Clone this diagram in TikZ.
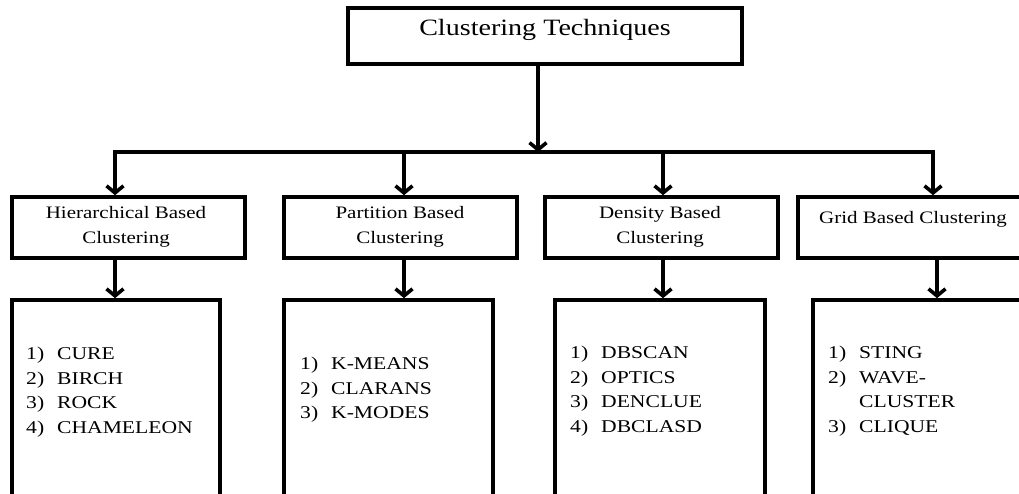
\documentclass[tikz,border=0pt]{standalone}
\usepackage{fontspec}
\setmainfont{Liberation Serif}[FakeStretch=1.2]
\usetikzlibrary{arrows.meta}
\newcommand\lnum[1]{\makebox[31pt][l]{#1)}}
\begin{document}
\begin{tikzpicture}[x=1pt,y=-1pt,
  box/.style={draw, line width=3.6pt, inner sep=0pt},
  conn/.style={line width=3.6pt, line cap=rect},
  arr/.style={line width=3.6pt, -{Straight Barb[length=7pt,width=17pt]}},
  head/.style={font=\fontsize{17.5}{25}\selectfont, align=center, inner sep=0pt},
  lst/.style={font=\fontsize{18}{24.5}\selectfont, align=left, inner sep=0pt, anchor=north west}]
\useasboundingbox (0,0) rectangle (1019,494);
\clip (0,0) rectangle (1019,494);
% top box
\node[box, minimum width=394, minimum height=56] (top) at (545,36) {};
\node[font=\fontsize{23.4}{28}\selectfont, anchor=base, inner sep=0pt] (toptxt) at (545,36) {Clustering Techniques};
% second row
\node[box, minimum width=233, minimum height=61] (h2) at (128.5,227.5) {};
\node[box, minimum width=233, minimum height=61] (p2) at (400.5,227.5) {};
\node[box, minimum width=233, minimum height=61] (d2) at (661.5,227.5) {};
\node[box, minimum width=233, minimum height=61] (g2) at (914.5,227.5) {};
\node[head, anchor=north] (h2t) at (126,206.5) {Hierarchical Based\\Clustering};
\node[head, anchor=north] (p2t) at (400,206.5) {Partition Based\\Clustering};
\node[head, anchor=north] (d2t) at (660,206.5) {Density Based\\Clustering};
\node[head, anchor=base] (g2t) at (913,224) {Grid Based Clustering};
% third row
\node[box, minimum width=208, minimum height=210] (h3) at (116,405) {};
\node[box, minimum width=209, minimum height=210] (p3) at (388.5,405) {};
\node[box, minimum width=210, minimum height=210] (d3) at (660,405) {};
\node[box, minimum width=217, minimum height=210] (g3) at (921.5,405) {};
\node[lst] (h3t) at (26,347) {\lnum{1}CURE\\ \lnum{2}BIRCH\\ \lnum{3}ROCK\\ \lnum{4}CHAMELEON};
\node[lst] (p3t) at (300,357) {\lnum{1}K-MEANS\\ \lnum{2}CLARANS\\ \lnum{3}K-MODES};
\node[lst] (d3t) at (570,346) {\lnum{1}DBSCAN\\ \lnum{2}OPTICS\\ \lnum{3}DENCLUE\\ \lnum{4}DBCLASD};
\node[lst] (g3t) at (828,346) {\lnum{1}STING\\ \lnum{2}WAVE-\\ \hspace*{31pt}CLUSTER\\ \lnum{3}CLIQUE};
% connectors
\coordinate (bus) at (0,152);
\coordinate (tx) at (538,0);
\coordinate (hx) at (115,0);
\coordinate (px) at (404,0);
\coordinate (dx) at (663,0);
\coordinate (gx) at (933,0);
\coordinate (gx2) at (937,0);
\draw[arr] (top.south -| tx) -- (tx |- bus);
\draw[conn] (hx |- bus) -- (gx |- bus);
\draw[arr] (hx |- bus) -- (hx |- h2.north);
\draw[arr] (px |- bus) -- (px |- p2.north);
\draw[arr] (dx |- bus) -- (dx |- d2.north);
\draw[arr] (gx |- bus) -- (gx |- g2.north);
\draw[arr] (hx |- h2.south) -- (hx |- h3.north);
\draw[arr] (px |- p2.south) -- (px |- p3.north);
\draw[arr] (dx |- d2.south) -- (dx |- d3.north);
\draw[arr] (gx2 |- g2.south) -- (gx2 |- g3.north);
\end{tikzpicture}
\end{document}
